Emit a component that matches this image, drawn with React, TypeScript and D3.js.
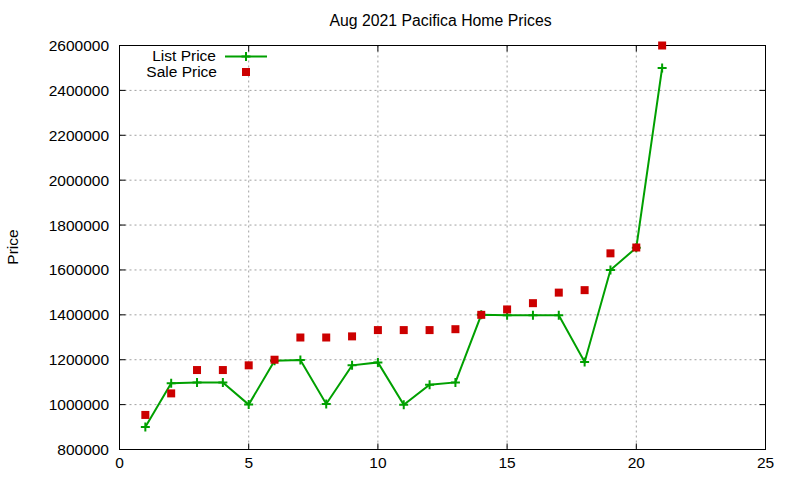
import React, { useEffect, useRef } from 'react';
import * as d3 from 'd3';

const days = [1, 2, 3, 4, 5, 6, 7, 8, 9, 10, 11, 12, 13, 14, 15, 16, 17, 18, 19, 20, 21];
const listPrice = [900000, 1095000, 1099000, 1099000, 1000000, 1195000, 1199000, 1003000, 1175000, 1188000, 999000, 1089000, 1099000, 1400000, 1398000, 1398000, 1398000, 1190000, 1600000, 1699000, 2500000];
const salePrice = [954000, 1050000, 1154000, 1154000, 1175000, 1200000, 1299000, 1299000, 1304000, 1332000, 1332000, 1332000, 1336000, 1400000, 1424000, 1452000, 1499000, 1510000, 1674000, 1700000, 2600000];
const xTicks = [0, 5, 10, 15, 20, 25];
const yTicks = [800000, 1000000, 1200000, 1400000, 1600000, 1800000, 2000000, 2200000, 2400000, 2600000];

const W = 800, H = 480;
const FONT = '"Liberation Sans", Arial, sans-serif';
const GREEN = '#00a000';
const RED = '#cc0000';

export default function App() {
  const ref = useRef<SVGSVGElement>(null);

  useEffect(() => {
    if (!ref.current) return;
    const svg = d3.select(ref.current);
    svg.selectAll('*').remove();

    const m = { left: 119.5, right: 765.5, top: 45.5, bottom: 449.5 };
    const x = d3.scaleLinear().domain([0, 25]).range([m.left, m.right]);
    const y = d3.scaleLinear().domain([800000, 2600000]).range([m.bottom, m.top]);

    svg.append('rect').attr('width', W).attr('height', H).attr('fill', '#fff');

    // grid
    const grid = svg.append('g').attr('stroke', '#a0a0a0').attr('stroke-width', 1).attr('stroke-dasharray', '2,3');
    xTicks.slice(1, -1).forEach(t => grid.append('line').attr('x1', x(t)).attr('x2', x(t)).attr('y1', m.top).attr('y2', m.bottom));
    yTicks.slice(1, -1).forEach(t => grid.append('line').attr('x1', m.left).attr('x2', m.right).attr('y1', y(t)).attr('y2', y(t)));

    // inward ticks on all four sides
    const ticks = svg.append('g').attr('stroke', '#000').attr('stroke-width', 1);
    xTicks.forEach(t => {
      ticks.append('line').attr('x1', x(t)).attr('x2', x(t)).attr('y1', m.bottom).attr('y2', m.bottom - 6);
      ticks.append('line').attr('x1', x(t)).attr('x2', x(t)).attr('y1', m.top).attr('y2', m.top + 6);
    });
    yTicks.forEach(t => {
      ticks.append('line').attr('x1', m.left).attr('x2', m.left + 6).attr('y1', y(t)).attr('y2', y(t));
      ticks.append('line').attr('x1', m.right).attr('x2', m.right - 6).attr('y1', y(t)).attr('y2', y(t));
    });

    svg.append('rect').attr('x', m.left).attr('y', m.top).attr('width', m.right - m.left).attr('height', m.bottom - m.top)
      .attr('fill', 'none').attr('stroke', '#000').attr('stroke-width', 1);

    const txt = svg.append('g').attr('font-family', FONT).attr('font-size', 15.5).attr('fill', '#000');
    xTicks.forEach(t => txt.append('text').attr('x', x(t)).attr('y', 468).attr('text-anchor', 'middle').text(t));
    yTicks.forEach(t => txt.append('text').attr('x', 109).attr('y', y(t) + 5.5).attr('text-anchor', 'end').text(t));
    txt.append('text').attr('x', 440.5).attr('y', 25.5).attr('text-anchor', 'middle').attr('font-size', 15.8).text('Aug 2021 Pacifica Home Prices');
    txt.append('text').attr('transform', 'translate(18,247) rotate(-90)').attr('text-anchor', 'middle').text('Price');

    // list price line + plus markers
    const pts = days.map((d, i) => [d, listPrice[i]] as [number, number]);
    const line = d3.line<[number, number]>().x(d => x(d[0])).y(d => y(d[1]));
    svg.append('path').datum(pts).attr('d', line).attr('fill', 'none').attr('stroke', GREEN).attr('stroke-width', 2);
    const plus = (g: d3.Selection<SVGGElement, unknown, null, undefined>, cx: number, cy: number) => {
      g.append('path').attr('d', `M${cx - 4.5},${cy}H${cx + 4.5}M${cx},${cy - 4.5}V${cy + 4.5}`)
        .attr('stroke', GREEN).attr('stroke-width', 2).attr('fill', 'none');
    };
    const pg = svg.append('g');
    pts.forEach(p => plus(pg, x(p[0]), y(p[1])));

    // sale price squares
    svg.append('g').selectAll('rect').data(days).enter().append('rect')
      .attr('x', (d) => x(d) - 4).attr('y', (d, i) => y(salePrice[i]) - 4)
      .attr('width', 8).attr('height', 8).attr('fill', RED);

    // legend
    txt.append('text').attr('x', 216).attr('y', 61).attr('text-anchor', 'end').text('List Price');
    txt.append('text').attr('x', 217).attr('y', 77).attr('text-anchor', 'end').text('Sale Price');
    svg.append('line').attr('x1', 225).attr('x2', 267).attr('y1', 56.5).attr('y2', 56.5).attr('stroke', GREEN).attr('stroke-width', 2);
    plus(pg, 246, 56.5);
    svg.append('rect').attr('x', 242).attr('y', 68).attr('width', 8).attr('height', 8).attr('fill', RED);
  }, []);

  return (
    <svg ref={ref} width={W} height={H} style={{ position: 'absolute', left: 0, top: 0, display: 'block' }} />
  );
}
